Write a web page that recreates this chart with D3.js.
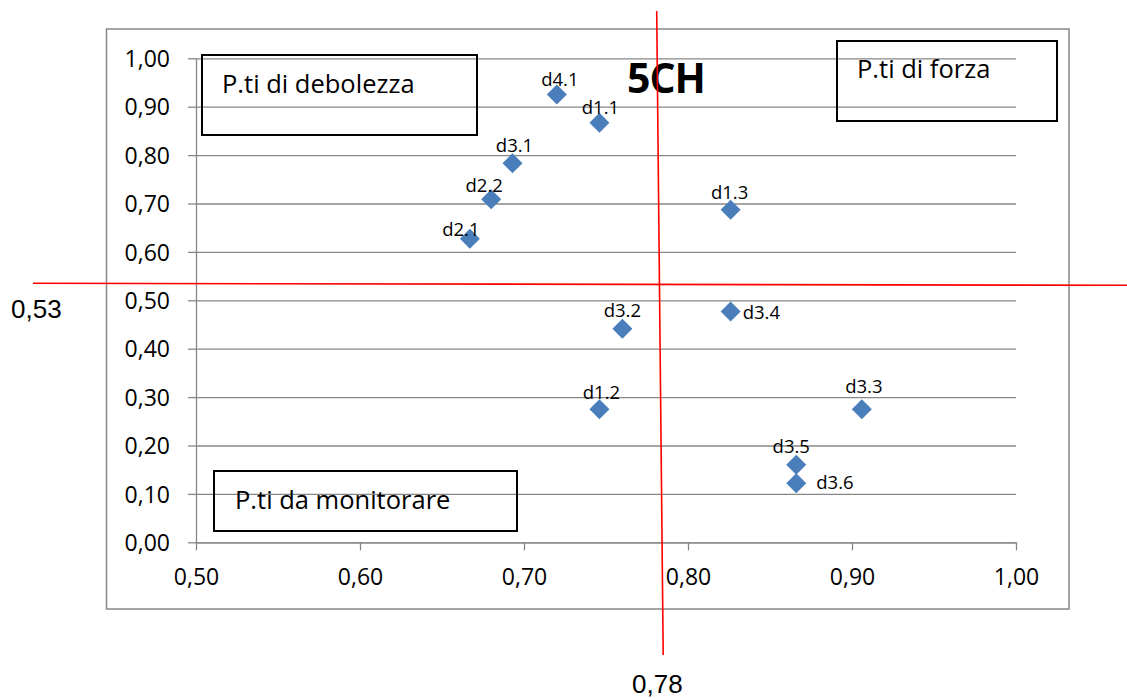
<!DOCTYPE html>
<html>
<head>
<meta charset="utf-8">
<script src="https://cdn.jsdelivr.net/npm/d3@7"></script>
<style>
  html, body { margin: 0; padding: 0; background: #fff; }
  svg { display: block; }
</style>
</head>
<body>
<svg id="chart" width="1127" height="699"></svg>
<script>
// ---- data ----
const labels = ["d4.1","d1.1","d3.1","d2.2","d2.1","d1.3","d3.2","d3.4","d1.2","d3.3","d3.5","d3.6"];
const xValues = [0.720, 0.746, 0.693, 0.680, 0.667, 0.826, 0.760, 0.826, 0.746, 0.906, 0.866, 0.866];
const yValues = [0.925, 0.867, 0.783, 0.709, 0.627, 0.687, 0.441, 0.477, 0.275, 0.275, 0.160, 0.122];
const xTicks = [0.5, 0.6, 0.7, 0.8, 0.9, 1.0];
const yTicks = [0, 0.1, 0.2, 0.3, 0.4, 0.5, 0.6, 0.7, 0.8, 0.9, 1.0];
const xThreshold = 0.78;
const yThreshold = 0.53;
const thresholdLabels = ["0,78", "0,53"];
const quadrantLabels = ["P.ti di debolezza", "P.ti di forza", "P.ti da monitorare"];
const chartTitle = "5CH";

// ---- layout (not data) ----
const labelPlacement = {
  "d4.1": [3, -9], "d1.1": [1, -9], "d3.1": [2, -11], "d2.2": [-7, -7],
  "d2.1": [-9, -3], "d1.3": [-1, -11], "d3.2": [0, -12], "d1.2": [2, -10],
  "d3.3": [2, -16], "d3.5": [-5, -12]
};
const rightLabels = { "d3.4": [12, 8], "d3.6": [20, 6] };

const svg = d3.select("#chart");
const x = d3.scaleLinear().domain([0.5, 1.0]).range([196, 1016]);
const y = d3.scaleLinear().domain([0, 1.0]).range([542.3, 58.3]);
const loc = d3.formatLocale({decimal: ",", thousands: ".", grouping: [3], currency: ["", "€"]});
const fmt = loc.format(".2f");
const gray = "#878787";
const tickFont = "'Open Sans', sans-serif";

// outer chart border
svg.append("rect").attr("x", 106.5).attr("y", 29).attr("width", 962.5).attr("height", 580)
  .attr("fill", "none").attr("stroke", gray).attr("stroke-width", 1.5);

// gridlines
const grid = svg.append("g").attr("transform", `translate(${x.range()[0]},0)`)
  .call(d3.axisLeft(y).tickValues(yTicks).tickSize(-(x.range()[1] - x.range()[0])).tickFormat(""));
grid.select(".domain").remove();
grid.selectAll("line").attr("stroke", gray).attr("stroke-width", 1.3);

// y axis
const yAxis = svg.append("g").attr("transform", `translate(${x.range()[0]},0)`)
  .call(d3.axisLeft(y).tickValues(yTicks).tickSize(8).tickSizeOuter(0).tickPadding(18).tickFormat(fmt));
yAxis.select(".domain").attr("stroke", gray).attr("stroke-width", 1.3);
yAxis.selectAll("line").attr("stroke", gray).attr("stroke-width", 1.3);
yAxis.selectAll("text").attr("font-family", tickFont).attr("font-size", 23).attr("fill", "#000")
  .attr("dy", "0.36em");

// x axis
const xAxis = svg.append("g").attr("transform", `translate(0,${y(0)})`)
  .call(d3.axisBottom(x).tickValues(xTicks).tickSize(8).tickSizeOuter(0).tickPadding(18).tickFormat(fmt));
xAxis.select(".domain").attr("stroke", gray).attr("stroke-width", 1.3);
xAxis.selectAll("line").attr("stroke", gray).attr("stroke-width", 1.3);
xAxis.selectAll("text").attr("font-family", tickFont).attr("font-size", 23).attr("fill", "#000");

// quadrant boxes
const boxes = [
  {t: quadrantLabels[0], x0: 202, y0: 55, x1: 477, y1: 135, tx: 222, ty: 93},
  {t: quadrantLabels[1], x0: 837, y0: 41, x1: 1057, y1: 121, tx: 857, ty: 78},
  {t: quadrantLabels[2], x0: 214, y0: 471, x1: 517, y1: 531, tx: 235, ty: 509}
];
boxes.forEach(b => {
  svg.append("rect").attr("x", b.x0).attr("y", b.y0).attr("width", b.x1 - b.x0).attr("height", b.y1 - b.y0)
    .attr("fill", "none").attr("stroke", "#000").attr("stroke-width", 2);
  svg.append("text").attr("x", b.tx).attr("y", b.ty).text(b.t)
    .attr("font-family", tickFont).attr("font-size", 25.5).attr("fill", "#000");
});

// points
const pts = labels.map((l, i) => ({label: l, x: xValues[i], y: yValues[i]}));
const diamond = d3.symbol().type(d3.symbolSquare).size(200);
svg.append("g").selectAll("path").data(pts).join("path")
  .attr("d", diamond)
  .attr("transform", d => `translate(${x(d.x)},${y(d.y)}) rotate(45)`)
  .attr("fill", "#4a7ebb");

// point labels
svg.append("g").selectAll("text").data(pts).join("text")
  .attr("x", d => x(d.x) + (rightLabels[d.label] ? rightLabels[d.label][0] : labelPlacement[d.label][0]))
  .attr("y", d => y(d.y) + (rightLabels[d.label] ? rightLabels[d.label][1] : labelPlacement[d.label][1]))
  .attr("text-anchor", d => rightLabels[d.label] ? "start" : "middle")
  .attr("font-family", tickFont).attr("font-size", 18.5).attr("fill", "#000")
  .text(d => d.label);

// title
svg.append("text").attr("x", 627).attr("y", 93).text(chartTitle)
  .attr("font-family", tickFont).attr("font-weight", "bold").attr("font-size", 41)
  .attr("letter-spacing", -1).attr("fill", "#000");

// threshold lines (hand-drawn, slightly slanted)
svg.append("line")
  .attr("x1", x(xThreshold) + 1.5).attr("y1", 11)
  .attr("x2", x(xThreshold) + 8).attr("y2", 655)
  .attr("stroke", "#ff0000").attr("stroke-width", 1.6);
svg.append("line")
  .attr("x1", 33).attr("y1", y(yThreshold) - 2.5)
  .attr("x2", 1127).attr("y2", y(yThreshold) - 0.5)
  .attr("stroke", "#ff0000").attr("stroke-width", 1.6);

svg.append("text").attr("x", 632).attr("y", 693).text(thresholdLabels[0])
  .attr("font-family", "'Liberation Sans', Arial, sans-serif").attr("font-size", 26).attr("fill", "#000");
svg.append("text").attr("x", 11).attr("y", 318).text(thresholdLabels[1])
  .attr("font-family", "'Liberation Sans', Arial, sans-serif").attr("font-size", 26).attr("fill", "#000");
</script>
</body>
</html>
